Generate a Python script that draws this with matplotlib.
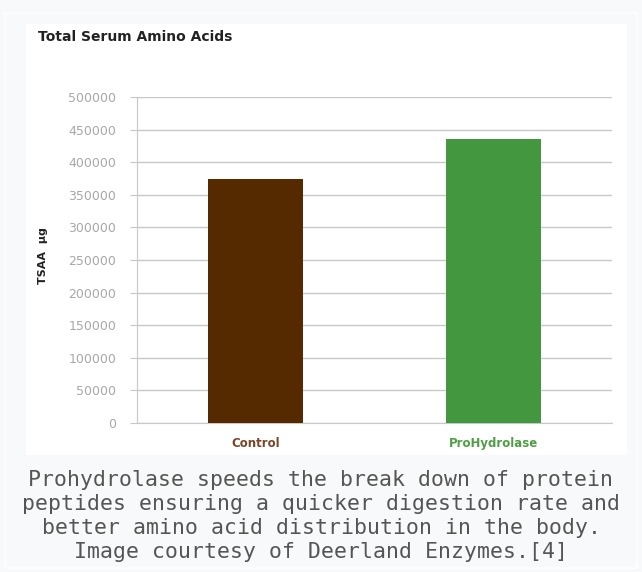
import matplotlib.pyplot as plt
from matplotlib.patches import Rectangle

categories = ["Control", "ProHydrolase"]
values = [375000, 435000]
bar_colors = ["#552a00", "#43973f"]
label_colors = ["#7a4528", "#4f9e45"]
yticks = [0, 50000, 100000, 150000, 200000, 250000, 300000, 350000, 400000, 450000, 500000]

W, H = 642, 572
fig = plt.figure(figsize=(W / 100, H / 100), dpi=100)
fig.patch.set_facecolor("#f8f9fa")


def px(x0, y0, x1, y1):
    # pixel box (top-left origin) -> figure fraction
    return [x0 / W, 1 - y1 / H, (x1 - x0) / W, (y1 - y0) / H]


# outer frame and white image area (behind the axes)
fig.patches.append(Rectangle((5 / W, 1 - 568 / H), 632 / W, 555 / H, transform=fig.transFigure,
                             facecolor="none", edgecolor="#ffffff", lw=1.2, zorder=-5))
fig.patches.append(Rectangle((26 / W, 1 - 455 / H), 601 / W, 431 / H, transform=fig.transFigure,
                             facecolor="white", edgecolor="none", zorder=-4))

ax = fig.add_axes(px(137, 97, 612, 423))
ax.set_facecolor("white")
x = range(len(categories))
ax.bar(x, values, width=0.4, color=bar_colors, zorder=3)
ax.set_xlim(-0.5, 1.5)
ax.set_ylim(0, 500000)
ax.set_yticks(yticks)
ax.set_yticklabels([str(v) for v in yticks], fontsize=9, color="#a8a8a8")
ax.grid(axis="y", color="#c8c8c8", lw=1.0, zorder=0)
for s in ["top", "right"]:
    ax.spines[s].set_visible(False)
ax.spines["left"].set_color("#c8c8c8")
ax.spines["bottom"].set_color("#c8c8c8")
ax.tick_params(axis="y", length=5, color="#c8c8c8", pad=10)
ax.set_xticks(list(x))
ax.set_xticklabels(categories, fontsize=8.5, fontweight="bold")
for lbl, c in zip(ax.get_xticklabels(), label_colors):
    lbl.set_color(c)
ax.tick_params(axis="x", length=0, pad=10)

fig.text(38 / W, 1 - 37 / H, "Total Serum Amino Acids", fontsize=10, fontweight="bold",
         color="#222222", va="center", ha="left")
fig.text(43 / W, 1 - 256 / H, "TSAA  \u00b5g", fontsize=8, fontweight="bold",
         color="#222222", va="center", ha="center", rotation=90)

caption = ("Prohydrolase speeds the break down of protein\n"
           "peptides ensuring a quicker digestion rate and\n"
           "better amino acid distribution in the body.\n"
           "Image courtesy of Deerland Enzymes.[4]")
fig.text(0.5, 1 - 516 / H, caption, fontsize=15.5, family="DejaVu Sans Mono", color="#555555",
         ha="center", va="center", linespacing=1.27)

fig.savefig("out.png", dpi=100, facecolor=fig.get_facecolor())
